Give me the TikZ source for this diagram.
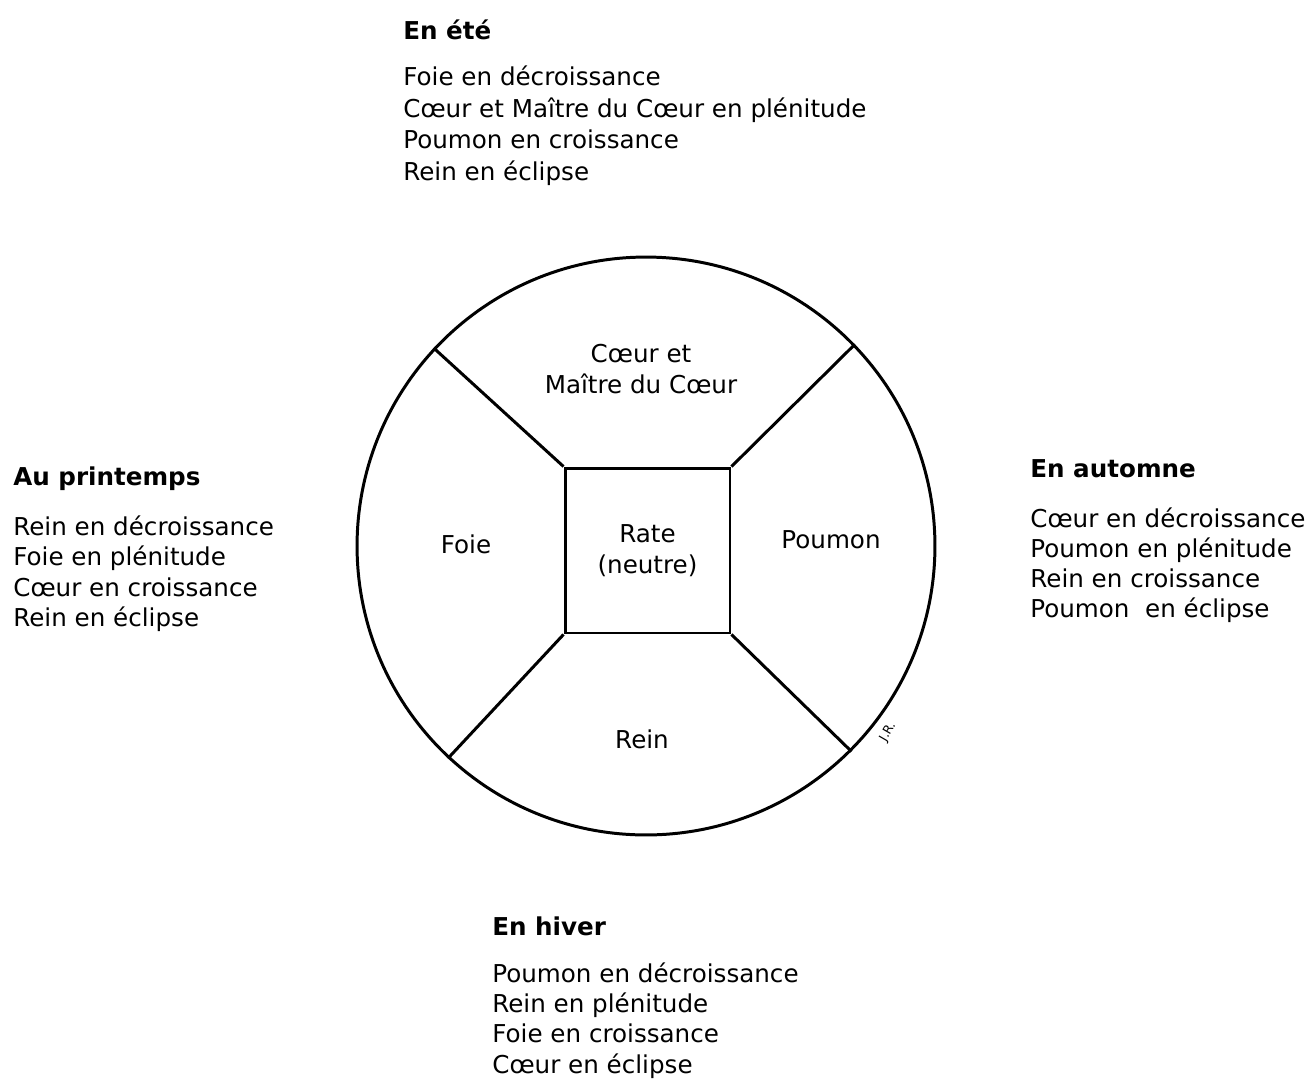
\documentclass[tikz,border=0pt]{standalone}
\usepackage{fontspec}
\setmainfont{DejaVu Sans}
\usetikzlibrary{positioning}
\tikzset{every picture/.style={/utils/exec={\fontsize{14}{17.4}\selectfont}}}
\tikzset{saison/.style={anchor=base west, inner sep=0, font=\bfseries},
         ligne/.style={anchor=base west, inner sep=0}}

\begin{document}
\begin{tikzpicture}[x=0.02cm, y=-0.02cm]
  \useasboundingbox (0,0) rectangle (1311,1082);

  \begin{scope}[line width=1.7pt]
    \node [circle, draw, minimum size=11.56cm, inner sep=0] (roue) at (646,546) {};
    \node [draw, minimum width=3.3cm, minimum height=3.3cm, align=center] (rate) at (647.5,550.5) {Rate\\(neutre)};
    \draw (rate.north west) -- (roue.137);
    \draw (rate.north east) -- (roue.44);
    \draw (rate.south west) -- (roue.227);
    \draw (rate.south east) -- (roue.315);
  \end{scope}

  \node [align=center] (coeur) at (641,369) {Cœur et\\Maître du Cœur};
  \node (foie) at (466,544) {Foie};
  \node (poumon) at (831,540) {Poumon};
  \node (rein) at (642,739) {Rein};
  \node [font=\scriptsize, rotate=60, inner sep=0] (sign) at (888,732) {J.R.};

  % en ete
  \node [saison] (ete) at (403,39) {En été};
  \foreach \txt [count=\i] in {Foie en décroissance, Cœur et Maître du Cœur en plénitude, Poumon en croissance, Rein en éclipse}
    \node [ligne] (ete\i) at (403, {54+31.5*\i}) {\txt};

  % au printemps
  \node [saison] (printemps) at (13,485) {Au printemps};
  \foreach \txt [count=\i] in {Rein en décroissance, Foie en plénitude, Cœur en croissance, Rein en éclipse}
    \node [ligne] (printemps\i) at (13, {505+30.4*\i}) {\txt};

  % en automne
  \node [saison] (automne) at (1030,477) {En automne};
  \foreach \txt [count=\i] in {Cœur en décroissance, Poumon en plénitude, Rein en croissance, Poumon\ \ en éclipse}
    \node [ligne] (automne\i) at (1030, {497+30.2*\i}) {\txt};

  % en hiver
  \node [saison] (hiver) at (492,935) {En hiver};
  \foreach \txt [count=\i] in {Poumon en décroissance, Rein en plénitude, Foie en croissance, Cœur en éclipse}
    \node [ligne] (hiver\i) at (492, {952+30.3*\i}) {\txt};
\end{tikzpicture}
\end{document}
